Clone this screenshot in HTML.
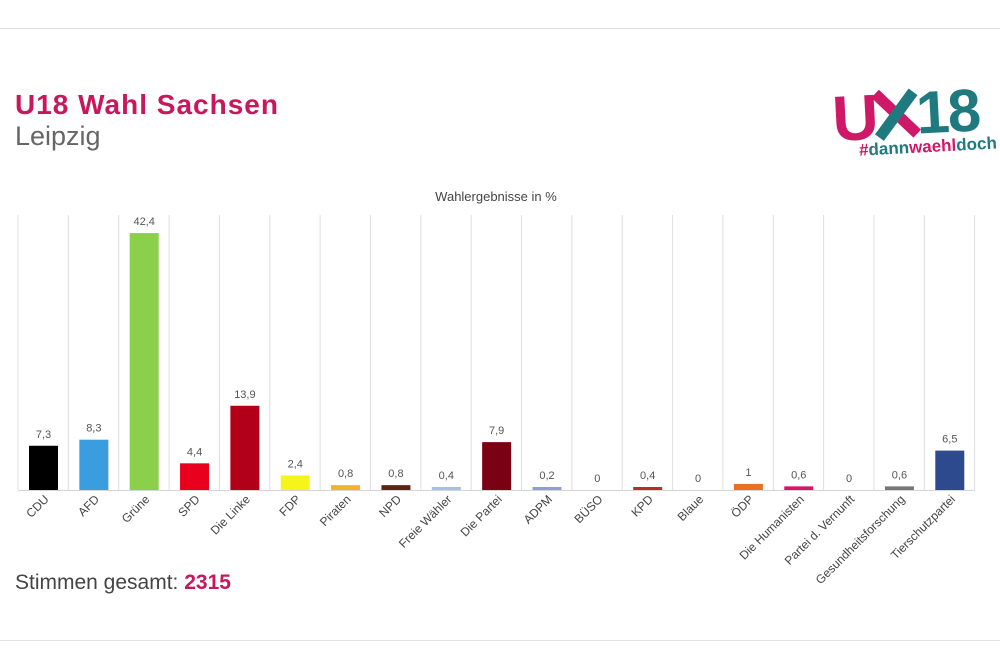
<!DOCTYPE html>
<html><head><meta charset="utf-8"><style>
body{margin:0;background:#fff;}
svg{display:block;font-family:"Liberation Sans",sans-serif;}
</style></head><body>
<svg width="1000" height="666" viewBox="0 0 1000 666">
<rect width="1000" height="666" fill="#fff"/>
<line x1="0" y1="28.5" x2="1000" y2="28.5" stroke="#e2e2e2"/>
<line x1="0" y1="640.5" x2="1000" y2="640.5" stroke="#e2e2e2"/>
<text x="15" y="114" font-size="28" font-weight="bold" fill="#c8175d" letter-spacing="1">U18 Wahl Sachsen</text>
<text x="15" y="145" font-size="27" fill="#666">Leipzig</text>
<g transform="rotate(-3 910 110)">
<text x="832" y="137" font-size="64" font-weight="bold" fill="#d01868" letter-spacing="-2">U</text>
<line x1="876" y1="92" x2="916" y2="134" stroke="#d01868" stroke-width="11"/>
<line x1="914" y1="92" x2="878" y2="136" stroke="#1f7a80" stroke-width="11"/>
<text x="916" y="134" font-size="60" font-weight="bold" fill="#1f7a80" letter-spacing="-2">18</text>
<text x="857" y="153" font-size="17" font-weight="bold" fill="#1f7a80"><tspan fill="#d01868">#</tspan>dann<tspan fill="#d01868">waehl</tspan>doch</text>
</g>
<text x="496" y="201" font-size="13" fill="#444" text-anchor="middle">Wahlergebnisse in %</text>
<g id="chart"></g>
<line x1="18" y1="490.5" x2="975" y2="490.5" stroke="#d6d6d6"/>
<text x="15" y="589" font-size="21" fill="#444">Stimmen gesamt: <tspan font-weight="bold" fill="#c8175d">2315</tspan></text>
</svg>
<script>
var d=[["CDU",7.3,"#000"],["AFD",8.3,"#3a9de0"],["Grüne",42.4,"#8ccf4a"],["SPD",4.4,"#e8001c"],["Die Linke",13.9,"#b10017"],["FDP",2.4,"#f5f51a"],["Piraten",0.8,"#f3b32b"],["NPD",0.8,"#5a2418"],["Freie Wähler",0.4,"#a8c0dc"],["Die Partei",7.9,"#7a0014"],["ADPM",0.2,"#8f9fd0"],["BÜSO",0,"#999"],["KPD",0.4,"#b03030"],["Blaue",0,"#999"],["ÖDP",1,"#e87020"],["Die Humanisten",0.6,"#d8146a"],["Partei d. Vernunft",0,"#999"],["Gesundheitsforschung",0.6,"#777"],["Tierschutzpartei",6.5,"#2e4a8f"]];
var s="",base=490,w=50.35;
for(var i=0;i<=19;i++){var x=18+w*i;s+='<line x1="'+x.toFixed(1)+'" y1="215" x2="'+x.toFixed(1)+'" y2="490" stroke="#dedede"/>';}
d.forEach(function(r,i){var c=43.5+w*i,h=r[1]*6.06;if(r[1]>0&&h<3)h=3;var t=base-h;
if(h>0)s+='<rect x="'+(c-14.5)+'" y="'+t+'" width="29" height="'+h+'" fill="'+r[2]+'"/>';
s+='<text x="'+c+'" y="'+(t-8)+'" font-size="11" fill="#555" text-anchor="middle">'+String(r[1]).replace(".",",")+'</text>';
s+='<text transform="translate('+(c+6)+',500) rotate(-45)" font-size="12" fill="#444" text-anchor="end">'+r[0]+'</text>';});
document.getElementById("chart").innerHTML=s;
</script>
</body></html>
